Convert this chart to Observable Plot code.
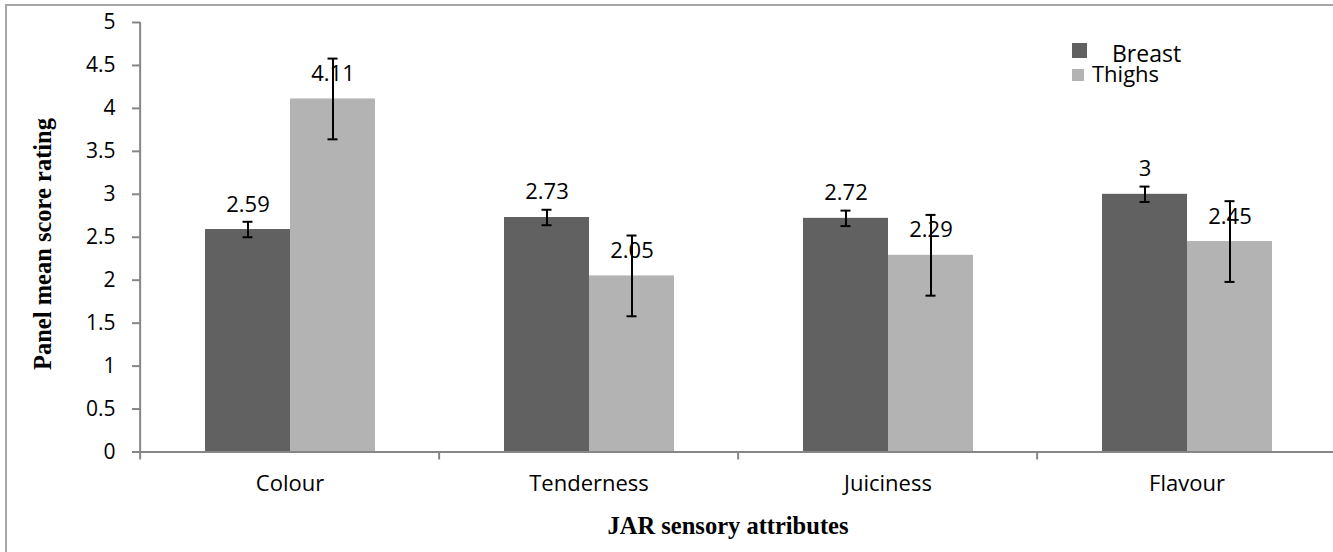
<!DOCTYPE html>
<html><head><meta charset="utf-8">
<script src="https://cdn.jsdelivr.net/npm/d3@7"></script>
<script src="https://cdn.jsdelivr.net/npm/@observablehq/plot@0.6"></script>
<style>
html,body{margin:0;padding:0;overflow:hidden;background:#fff;}
#wrap{position:relative;width:1333px;height:552px;overflow:hidden;font-family:"Open Sans",sans-serif;}
#frame{position:absolute;left:5px;top:4px;width:1360px;height:580px;border:2px solid #a6a6a6;box-sizing:border-box;}
#chart{position:absolute;left:0;top:0;}
.ttl{position:absolute;font-family:"Liberation Serif","Times New Roman",serif;font-weight:bold;font-size:24.5px;line-height:25px;white-space:nowrap;color:#000;}
.lg{position:absolute;white-space:nowrap;color:#000;font-size:23px;line-height:18px;}
.sw{position:absolute;}
</style>
</head><body>
<div id="wrap">
  <div id="frame"></div>
  <div id="chart"></div>
  <div class="ttl" id="ytitle" style="left:42px;top:244px;transform:translate(-50%,-50%) rotate(-90deg);">Panel mean score rating</div>
  <div class="ttl" id="xtitle" style="left:728px;top:513px;transform:translateX(-50%);">JAR sensory attributes</div>
  <div class="sw" style="left:1072px;top:43px;width:15px;height:15px;background:#616161;"></div>
  <div class="lg" style="left:1112px;top:44px;">Breast</div>
  <div class="sw" style="left:1072px;top:69px;width:12px;height:12px;background:#b3b3b3;"></div>
  <div class="lg" style="left:1092px;top:64px;font-size:22px;">Thighs</div>
</div>
<script>
const categories = ["Colour", "Tenderness", "Juiciness", "Flavour"];
const series = ["Breast", "Thighs"];
const breastValues = [2.59, 2.73, 2.72, 3];
const thighsValues = [4.11, 2.05, 2.29, 2.45];
const breastLabels = ["2.59", "2.73", "2.72", "3"];
const thighsLabels = ["4.11", "2.05", "2.29", "2.45"];
const breastErrors = [0.09, 0.09, 0.09, 0.09];
const thighsErrors = [0.47, 0.47, 0.47, 0.47];
const yTicks = [0, 0.5, 1, 1.5, 2, 2.5, 3, 3.5, 4, 4.5, 5];
const yTickLabels = ["0", "0.5", "1", "1.5", "2", "2.5", "3", "3.5", "4", "4.5", "5"];
const colors = ["#616161", "#b3b3b3"];

const rows = [];
categories.forEach((c, i) => {
  rows.push({cat: c, series: series[0], value: breastValues[i], label: breastLabels[i], err: breastErrors[i]});
  rows.push({cat: c, series: series[1], value: thighsValues[i], label: thighsLabels[i], err: thighsErrors[i]});
});

const W = 1333, H = 552;
const mL = 138, mR = -4, mT = 22, mB = 100.5;
const step = (W - mL - mR) / categories.length;
const axisColor = "#868686";

const chart = Plot.plot({
  width: W, height: H,
  marginLeft: mL, marginRight: mR, marginTop: mT, marginBottom: mB,
  style: {fontFamily: "'Open Sans', sans-serif", background: "transparent", overflow: "visible"},
  fx: {domain: categories, padding: 0, label: null},
  x: {domain: series, paddingInner: 0, paddingOuter: 0.742, axis: null},
  y: {domain: [0, 5], label: null},
  color: {domain: series, range: colors},
  marks: [
    Plot.barY(rows, {fx: "cat", x: "series", y: "value", fill: "series"}),
    Plot.ruleY([0], {stroke: axisColor, strokeWidth: 2}),
    Plot.ruleX([categories[0]], {fx: d => d, x: null, y1: 0, y2: 5, dx: -step / 2, stroke: axisColor, strokeWidth: 2}),
    Plot.ruleX(rows, {fx: "cat", x: "series", y1: d => d.value - d.err, y2: d => d.value + d.err, stroke: "#000", strokeWidth: 2}),
    Plot.tickY(rows, {fx: "cat", x: "series", y: d => d.value - d.err, insetLeft: 37.5, insetRight: 37.5, stroke: "#000", strokeWidth: 2}),
    Plot.tickY(rows, {fx: "cat", x: "series", y: d => d.value + d.err, insetLeft: 37.5, insetRight: 37.5, stroke: "#000", strokeWidth: 2}),
    Plot.text(rows, {fx: "cat", x: "series", y: "value", text: "label", dy: -18, lineAnchor: "bottom", fontSize: 22, fill: "#000"}),
    Plot.axisY({ticks: yTicks, tickFormat: (d) => yTickLabels[yTicks.indexOf(d)], tickSize: 8, tickPadding: 17, fontSize: 21, stroke: axisColor, fill: "#000", strokeWidth: 2, label: null}),
    Plot.axisFx({anchor: "bottom", tickSize: 0, tickPadding: 23, fontSize: 22, fill: "#000", label: null}),
    Plot.axisFx({anchor: "bottom", tickSize: 8, tickFormat: () => "", dx: -step / 2, stroke: axisColor, strokeWidth: 2, label: null})
  ]
});
document.getElementById("chart").appendChild(chart);
</script>
</body></html>
